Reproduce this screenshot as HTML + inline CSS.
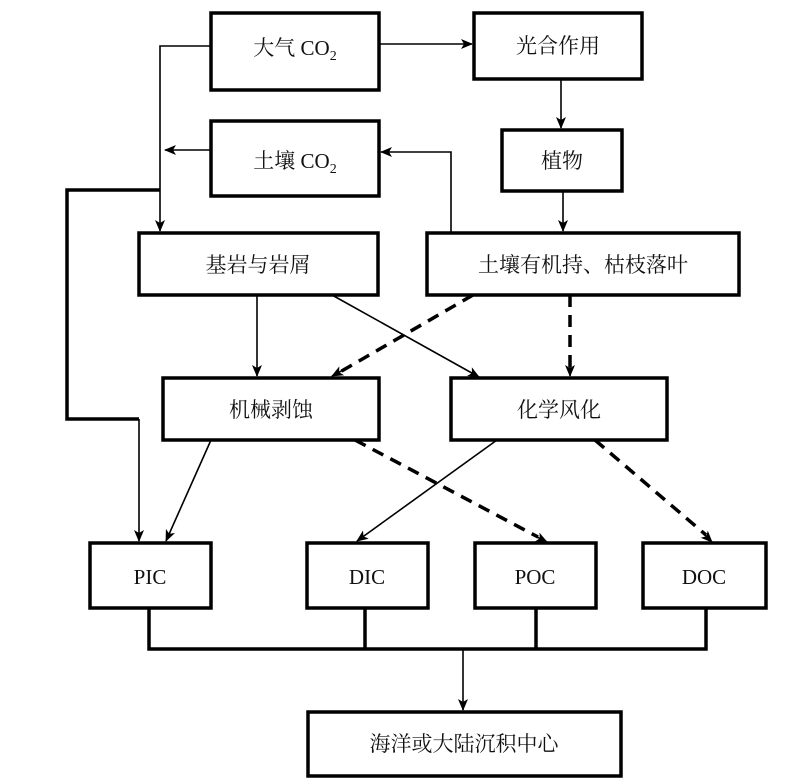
<!DOCTYPE html>
<html><head><meta charset="utf-8"><style>
html,body{margin:0;padding:0;background:#fff;}
svg{display:block;}
text{font-family:"Liberation Serif","Noto Serif CJK SC",serif;font-size:21px;fill:#111;}
</style></head><body>
<svg width="800" height="780" viewBox="0 0 800 780" xmlns="http://www.w3.org/2000/svg">
<defs>
<marker id="a" markerWidth="12" markerHeight="10" refX="11" refY="5" orient="auto" markerUnits="userSpaceOnUse">
<path d="M0,0 L12,5 L0,10 L3,5 Z" fill="#000"/></marker>
</defs>
<g fill="#fff" stroke="#000" stroke-width="3.5">
<rect x="211" y="13" width="168" height="77"/>
<rect x="474" y="13" width="168" height="66"/>
<rect x="211" y="121" width="168" height="75"/>
<rect x="502" y="130" width="120" height="61"/>
<rect x="139" y="233" width="239" height="62"/>
<rect x="427" y="233" width="312" height="62"/>
<rect x="163" y="378" width="216" height="62"/>
<rect x="451" y="378" width="216" height="62"/>
<rect x="90" y="543" width="121" height="65"/>
<rect x="307" y="543" width="121" height="65"/>
<rect x="475" y="543" width="121" height="65"/>
<rect x="643" y="543" width="123" height="65"/>
<rect x="308" y="712" width="313" height="64"/>
</g>
<g stroke="#000" stroke-width="1.6" fill="none">
<line x1="379" y1="44" x2="472" y2="44" marker-end="url(#a)"/>
<line x1="561" y1="80" x2="561" y2="128" marker-end="url(#a)"/>
<line x1="563" y1="191" x2="563" y2="231" marker-end="url(#a)"/>
<polyline points="451,233 451,152 381,152" marker-end="url(#a)"/>
<line x1="211" y1="150" x2="165" y2="150" marker-end="url(#a)"/>
<polyline points="211,46 160,46 160,231" marker-end="url(#a)"/>
<line x1="257" y1="295" x2="257" y2="376" marker-end="url(#a)"/>
<line x1="332" y1="295" x2="479" y2="377" marker-end="url(#a)"/>
<line x1="211" y1="440" x2="166" y2="541" marker-end="url(#a)"/>
<line x1="497" y1="440" x2="357" y2="541" marker-end="url(#a)"/>
<line x1="139" y1="419" x2="139" y2="541" marker-end="url(#a)"/>
<line x1="463" y1="649" x2="463" y2="710" marker-end="url(#a)"/>
</g>
<g stroke="#000" stroke-width="3.5" fill="none">
<polyline points="160,190 67,190 67,419 139,419"/>
<polyline points="149,608 149,649 706,649 706,608"/>
<line x1="365" y1="608" x2="365" y2="649"/>
<line x1="536" y1="608" x2="536" y2="649"/>
</g>
<g stroke="#000" stroke-width="3.5" fill="none" stroke-dasharray="12,8">
<line x1="473" y1="295" x2="340" y2="372"/>
<line x1="570" y1="295" x2="570" y2="368"/>
<line x1="355" y1="440" x2="538" y2="537"/>
<line x1="595" y1="440" x2="706" y2="535"/>
</g>
<g stroke="#000" stroke-width="1.6" fill="none">
<line x1="345" y1="369" x2="332" y2="376" marker-end="url(#a)"/>
<line x1="570" y1="366" x2="570" y2="376" marker-end="url(#a)"/>
<line x1="535" y1="536" x2="547" y2="542" marker-end="url(#a)"/>
<line x1="703" y1="533" x2="712" y2="542" marker-end="url(#a)"/>
</g>
<g text-anchor="middle">
<text x="295" y="55">大气 CO<tspan font-size="14" dy="5">2</tspan></text>
<text x="558" y="53">光合作用</text>
<text x="295" y="168">土壤 CO<tspan font-size="14" dy="5">2</tspan></text>
<text x="562" y="168">植物</text>
<text x="258" y="272">基岩与岩屑</text>
<text x="583" y="272">土壤有机持、枯枝落叶</text>
<text x="271" y="417">机械剥蚀</text>
<text x="559" y="417">化学风化</text>
<text x="150" y="584">PIC</text>
<text x="367" y="584">DIC</text>
<text x="535" y="584">POC</text>
<text x="704" y="584">DOC</text>
<text x="464" y="751">海洋或大陆沉积中心</text>
</g>
</svg>
</body></html>
